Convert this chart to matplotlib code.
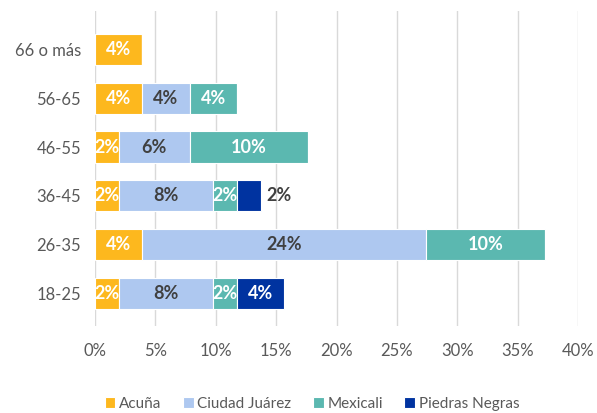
import matplotlib
matplotlib.use("Agg")
import matplotlib.pyplot as plt
import numpy as np

plt.rcParams['font.family'] = ['Lato', 'DejaVu Sans']

categories = ["18-25", "26-35", "36-45", "46-55", "56-65", "66 o más"]
series_names = ["Acuña", "Ciudad Juárez", "Mexicali", "Piedras Negras"]
acuna = [1.96, 3.92, 1.96, 1.96, 3.92, 3.92]
ciudad_juarez = [7.84, 23.53, 7.84, 5.88, 3.92, 0]
mexicali = [1.96, 9.80, 1.96, 9.80, 3.92, 0]
piedras_negras = [3.92, 0, 1.96, 0, 0, 0]
xticks = [0, 5, 10, 15, 20, 25, 30, 35, 40]

colors = ["#FDB81E", "#AEC8F0", "#5BB8B0", "#0033A0"]
label_colors = ["white", "#404040", "white", "white"]
# labels drawn outside the bar end (series index, category index)
outside_labels = [(3, 2)]

fig = plt.figure(figsize=(5.97, 4.13), dpi=100)
ax = fig.add_axes([95/597, 87/413, 483/597, 315/413])

y = np.arange(len(categories))
left = np.zeros(len(categories))
data = [acuna, ciudad_juarez, mexicali, piedras_negras]
handles = []
for si, (vals, c) in enumerate(zip(data, colors)):
    vals = np.array(vals)
    h = ax.barh(y, vals, left=left, height=0.64, color=c, edgecolor="white",
                linewidth=0.8, label=series_names[si], zorder=3)
    handles.append(h)
    for ci, v in enumerate(vals):
        if v <= 0:
            continue
        txt = f"{round(v):.0f}%"
        if (si, ci) in outside_labels:
            ax.text(left[ci] + v + 0.5, y[ci], txt, ha="left", va="center",
                    color="#404040", fontsize=13, fontweight="bold", zorder=4)
        else:
            ax.text(left[ci] + v / 2, y[ci], txt, ha="center", va="center",
                    color=label_colors[si], fontsize=13, fontweight="bold", zorder=4)
    left = left + vals

ax.set_xlim(0, 40)
ax.set_ylim(-0.67, 5.79)
ax.set_yticks(y)
ax.set_yticklabels(categories)
ax.set_xticks(xticks)
ax.set_xticklabels([f"{t}%" for t in xticks])
ax.tick_params(axis="both", length=0, labelsize=12, colors="#595959", pad=10)
ax.tick_params(axis="x", pad=12)
ax.xaxis.grid(True, color="#D9D9D9", linewidth=1, zorder=0)
ax.set_axisbelow(True)
for s in ax.spines.values():
    s.set_visible(False)

fig.legend(handles=handles, labels=series_names, loc="center", ncol=4,
           bbox_to_anchor=(312/597, 9/413), frameon=False, fontsize=11,
           handlelength=0.7, handleheight=0.7, handletextpad=0.25,
           columnspacing=1.4, labelcolor="#595959", borderpad=0)

fig.savefig("out.png", dpi=100)
